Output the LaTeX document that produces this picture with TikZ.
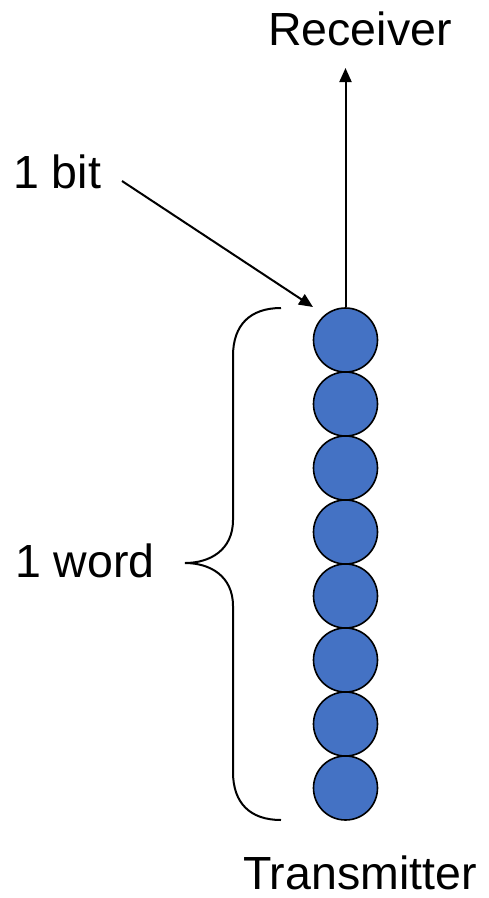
\documentclass[tikz,border=0pt]{standalone}
\usepackage{fontspec}
\setmainfont{Liberation Sans}
\usetikzlibrary{arrows.meta}
\definecolor{bitblue}{HTML}{4472C4}
\begin{document}
\begin{tikzpicture}[x=1pt,y=-1pt,
  bit/.style={circle,draw=black,line width=1.6pt,fill=bitblue,minimum size=64pt,inner sep=0pt},
  lbl/.style={font=\fontsize{46.5}{50}\selectfont,inner sep=0pt},
  conn/.style={line width=2pt,-{Triangle[length=14pt,width=12pt]}},
  brace/.style={line width=2pt}]
\useasboundingbox (0,0) rectangle (489,898);
% stack of eight bits forming one word
\foreach \i in {1,...,8}{
  \node[bit] (b\i) at (345.5,{340+64*(\i-1)}) {};
}
\node[lbl,anchor=base] (rx) at (360,45) {Receiver};
\node[lbl,anchor=base,text depth=0pt] (tx) at (360,889) {Transmitter};
\node[lbl,anchor=base west] (bitlbl) at (13,188) {1 bit};
\node[lbl,anchor=base west] (wordlbl) at (15,577) {1 word};
\coordinate (rxtip) at (345.5,68);
\coordinate (bittip) at (313,307);
\coordinate (bitstart) at (122,181);
% outgoing line to the receiver
\draw[conn] (b1.north) -- (rxtip);
% pointer to a single bit
\draw[conn] (bitstart) -- (bittip);
% curly brace spanning the word
\draw[brace] (281,308) .. controls (250,308) and (233,325) .. (233,356)
  -- (233,520) .. controls (233,550) and (210,563) .. (185,563)
  .. controls (210,563) and (233,576) .. (233,606)
  -- (233,772) .. controls (233,803) and (250,820) .. (281,820);
\end{tikzpicture}
\end{document}
